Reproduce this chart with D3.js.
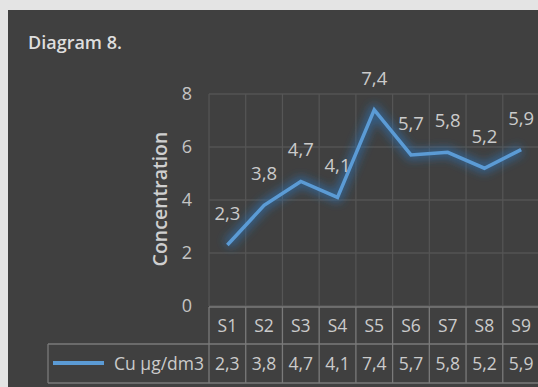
<!DOCTYPE html>
<html>
<head>
<meta charset="utf-8">
<script src="https://cdn.jsdelivr.net/npm/d3@7"></script>
<style>
  html, body { margin: 0; padding: 0; background: #ffffff; }
  svg { display: block; }
  text { font-family: "Open Sans", "Noto Sans", sans-serif; }
</style>
</head>
<body>
<svg id="chart" width="538" height="387"></svg>
<script>
// Copper concentration per sampling site
const categories = ["S1", "S2", "S3", "S4", "S5", "S6", "S7", "S8", "S9"];
const cuValues = [2.3, 3.8, 4.7, 4.1, 7.4, 5.7, 5.8, 5.2, 5.9];
const yTicks = [0, 2, 4, 6, 8];
const seriesName = "Cu µg/dm3";
const chartTitle = "Diagram 8.";
const yTitle = "Concentration";

const fmt = v => String(v).replace(".", ",");

const svg = d3.select("#chart");
const W = 538, H = 387;
const textColor = "#cbcbcb";

// panel background
svg.append("rect").attr("x", 0).attr("y", 0).attr("width", W).attr("height", H).attr("fill", "#e4e4e4");
svg.append("rect").attr("x", 8).attr("y", 10).attr("width", W - 8).attr("height", H - 10).attr("fill", "#404040");

const plot = { left: 209, right: 539.5, top: 94, bottom: 306 };

const x = d3.scaleBand().domain(categories).range([plot.left, plot.right]).padding(0);
const y = d3.scaleLinear().domain([0, 8]).range([plot.bottom, plot.top]);

// glow filter for the series line
const defs = svg.append("defs");
const glow = defs.append("filter").attr("id", "glow")
  .attr("x", "-20%").attr("y", "-30%").attr("width", "140%").attr("height", "160%");
glow.append("feGaussianBlur").attr("stdDeviation", 4.5);

// horizontal gridlines
svg.append("g").attr("class", "hgrid")
  .selectAll("line").data(yTicks).join("line")
  .attr("x1", plot.left).attr("x2", plot.right)
  .attr("y1", d => y(d)).attr("y2", d => y(d))
  .attr("stroke", "#5c5c5c").attr("stroke-width", 1.2);

// vertical gridlines at category boundaries
const bounds = categories.map(c => x(c)).concat([x(categories[categories.length - 1]) + x.bandwidth()]);
svg.append("g").attr("class", "vgrid")
  .selectAll("line").data(bounds).join("line")
  .attr("x1", d => d).attr("x2", d => d)
  .attr("y1", plot.top).attr("y2", plot.bottom)
  .attr("stroke", "#565656").attr("stroke-width", 1.2);

// y axis tick labels
const yAxis = d3.axisLeft(y).tickValues(yTicks).tickSize(0).tickPadding(0);
const gy = svg.append("g").attr("transform", `translate(${plot.left - 17},0)`).call(yAxis);
gy.select(".domain").remove();
gy.selectAll("text").attr("fill", "#c4c4c4").attr("font-size", 18).attr("font-family", "'Open Sans', sans-serif");

// y axis title
svg.append("text")
  .attr("transform", `translate(167,${(plot.top + plot.bottom) / 2 - 1}) rotate(-90)`)
  .attr("text-anchor", "middle")
  .attr("fill", "#cfcfcf").attr("font-size", 19.5).attr("font-weight", 600)
  .text(yTitle);

// chart title
svg.append("text").attr("x", 28).attr("y", 49)
  .attr("fill", "#dedede").attr("font-size", 18).attr("font-weight", 600)
  .text(chartTitle);

// series line with glow
const line = d3.line()
  .x((d, i) => x(categories[i]) + x.bandwidth() / 2)
  .y(d => y(d));

svg.append("path").datum(cuValues)
  .attr("d", line).attr("fill", "none")
  .attr("stroke", "#2f6fb0").attr("stroke-width", 11).attr("stroke-opacity", 0.6)
  .attr("stroke-linejoin", "round")
  .attr("filter", "url(#glow)");

svg.append("path").datum(cuValues)
  .attr("d", line).attr("fill", "none")
  .attr("stroke", "#5b9bd5").attr("stroke-width", 3.5)
  .attr("stroke-linejoin", "miter");

// data labels
svg.append("g").selectAll("text").data(cuValues).join("text")
  .attr("x", (d, i) => x(categories[i]) + x.bandwidth() / 2)
  .attr("y", d => y(d) - 25)
  .attr("text-anchor", "middle")
  .attr("fill", textColor).attr("font-size", 18.5)
  .text(d => fmt(d));

// data table under the plot
const rowTop = 307, rowMid = 344, rowBot = 383, legendLeft = 48;
const tbl = svg.append("g").attr("class", "table");
const tStroke = "#7a7a7a";

tbl.append("line").attr("x1", plot.left).attr("x2", plot.right).attr("y1", rowTop).attr("y2", rowTop)
  .attr("stroke", tStroke).attr("stroke-width", 1.3);
tbl.append("line").attr("x1", legendLeft).attr("x2", plot.right).attr("y1", rowMid).attr("y2", rowMid)
  .attr("stroke", tStroke).attr("stroke-width", 1.3);
tbl.append("line").attr("x1", legendLeft).attr("x2", plot.right).attr("y1", rowBot).attr("y2", rowBot)
  .attr("stroke", tStroke).attr("stroke-width", 1.3);
tbl.append("line").attr("x1", legendLeft).attr("x2", legendLeft).attr("y1", rowMid).attr("y2", rowBot)
  .attr("stroke", tStroke).attr("stroke-width", 1.3);
tbl.selectAll("line.col").data(bounds).join("line").attr("class", "col")
  .attr("x1", d => d).attr("x2", d => d).attr("y1", rowTop).attr("y2", rowBot)
  .attr("stroke", tStroke).attr("stroke-width", 1.3);

tbl.selectAll("text.cat").data(categories).join("text").attr("class", "cat")
  .attr("x", d => x(d) + x.bandwidth() / 2).attr("y", (rowTop + rowMid) / 2 + 6.5)
  .attr("text-anchor", "middle").attr("fill", textColor).attr("font-size", 17.5)
  .text(d => d);

tbl.selectAll("text.val").data(cuValues).join("text").attr("class", "val")
  .attr("x", (d, i) => x(categories[i]) + x.bandwidth() / 2).attr("y", (rowMid + rowBot) / 2 + 6.5)
  .attr("text-anchor", "middle").attr("fill", textColor).attr("font-size", 17.5)
  .text(d => fmt(d));

// legend key inside the table
tbl.append("line").attr("x1", 53).attr("x2", 104).attr("y1", 363).attr("y2", 363)
  .attr("stroke", "#5b9bd5").attr("stroke-width", 4);
tbl.append("text").attr("x", 204).attr("y", (rowMid + rowBot) / 2 + 6.5)
  .attr("text-anchor", "end").attr("fill", textColor).attr("font-size", 17.5)
  .text(seriesName);
</script>
</body>
</html>
